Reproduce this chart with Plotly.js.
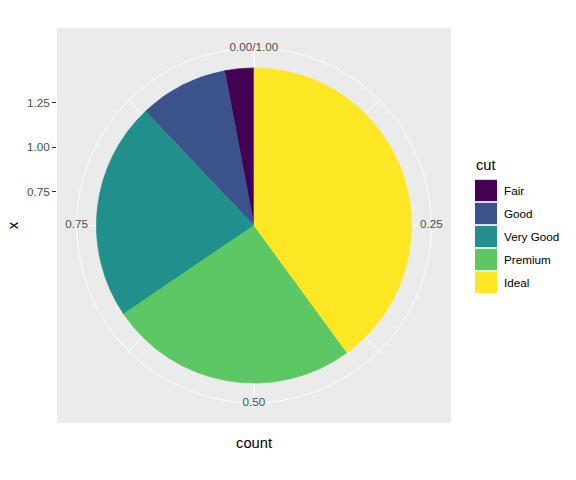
<!DOCTYPE html>
<html>
<head>
<meta charset="utf-8">
<script src="https://cdn.plot.ly/plotly-3.0.1.min.js"></script>
<style>html,body{margin:0;padding:0;background:#fff;}#chart{width:576px;height:480px;}</style>
</head>
<body>
<div id="chart"></div>
<script>
// ---- data ----
const cuts = ['Fair', 'Good', 'Very Good', 'Premium', 'Ideal'];
const counts = [1610, 4906, 12082, 13791, 21551];
const thetaTickVals = [0, 0.25, 0.5, 0.75];
const thetaTickText = ['0.00/1.00', '0.25', '0.50', '0.75'];
const thetaMinorVals = [0.125, 0.375, 0.625, 0.875];
const rTickVals = [0.75, 1.00, 1.25];
const rTickText = ['0.75', '1.00', '1.25'];

// ---- style ----
const colors = ['#440154', '#3B528B', '#21908C', '#5DC863', '#FDE725'];
const FONT = 'Liberation Sans, Arial, Helvetica, sans-serif';
const W = 576, H = 480;
const panel = {l: 57, t: 28, w: 394, h: 395};
const M = {l: panel.l, r: 0, t: panel.t, b: H - panel.t - panel.h};
const areaW = W - M.l - M.r, areaH = panel.h;

const total = counts.reduce((a, b) => a + b, 0);
// stacked: last category starts at 0 (top), going clockwise
const thetaC = [], widths = [];
for (let i = 0; i < counts.length; i++) {
  let after = 0;
  for (let j = i + 1; j < counts.length; j++) after += counts[j];
  thetaC.push((after + counts[i] / 2) / total * 360);
  widths.push(counts[i] / total * 360);
}

// radial scale: x range 0.5..1.5 -> 0..0.4 of panel; outer circle at 0.45
const rMin = 0.5, rMax = 0.5 + 1.0 * 0.45 / 0.4;
const circleD = 0.9 * panel.w;

const traces = [];
traces.push({
  type: 'barpolar',
  r: cuts.map(() => 1.0),
  base: cuts.map(() => 0.5),
  theta: thetaC,
  width: widths,
  marker: {color: colors, line: {width: 0.6, color: colors}},
  showlegend: false,
  hoverinfo: 'skip',
  subplot: 'polar'
});
traces.push({
  type: 'scatterpolar',
  mode: 'text',
  r: thetaTickVals.map(() => rMax),
  theta: thetaTickVals.map(v => v * 360),
  text: thetaTickText,
  textposition: 'middle center',
  textfont: {family: FONT, size: 11.7, color: '#4D4D4D'},
  cliponaxis: false,
  showlegend: false,
  hoverinfo: 'skip',
  subplot: 'polar'
});
// dummy on main cartesian axes so they render
traces.push({
  type: 'scatter', x: [0.5], y: [rTickVals[1]], mode: 'markers',
  marker: {opacity: 0}, showlegend: false, hoverinfo: 'skip', xaxis: 'x', yaxis: 'y'
});
// legend as keyed bars
traces.push({
  type: 'bar', orientation: 'h',
  x: cuts.map(() => 1), y: cuts,
  width: 0.93,
  marker: {color: colors, line: {width: 0}},
  showlegend: false, hoverinfo: 'skip',
  xaxis: 'x2', yaxis: 'y2'
});

// y axis (radial labels) : pixel mapping from reference
const pxPerUnit = 178; // 0.25 -> 44.5 px
const yAt1 = 147 - panel.t; // px from panel top where 1.00 sits
const yTop = 1 + yAt1 / pxPerUnit;
const yBot = 1 - (panel.h - yAt1) / pxPerUnit;

const pdx0 = (panel.w - circleD) / 2 / areaW, pdx1 = (panel.w + circleD) / 2 / areaW;
const pdy0 = (panel.h - circleD) / 2 / areaH, pdy1 = (panel.h + circleD) / 2 / areaH;

const layout = {
  width: W, height: H,
  margin: M,
  paper_bgcolor: '#FFFFFF',
  plot_bgcolor: 'rgba(0,0,0,0)',
  font: {family: FONT, color: '#000000'},
  showlegend: false,
  hovermode: false,
  shapes: [{
    type: 'rect', xref: 'x domain', yref: 'y domain',
    x0: 0, x1: 1, y0: 0, y1: 1,
    fillcolor: '#EBEBEB', line: {width: 0}, layer: 'below'
  }],
  xaxis: {
    domain: [0, panel.w / areaW], range: [0, 1],
    showgrid: false, zeroline: false, showticklabels: false, ticks: '',
    showline: false, fixedrange: true,
    title: {text: 'count', font: {family: FONT, size: 14.7, color: '#000'}, standoff: 14}
  },
  yaxis: {
    domain: [0, 1], range: [yBot, yTop],
    showgrid: false, zeroline: false, showline: false,
    tickvals: rTickVals, ticktext: rTickText,
    ticks: 'outside', ticklen: 4, tickwidth: 1, tickcolor: '#333333',
    tickfont: {family: FONT, size: 11.7, color: '#4D4D4D'},
    fixedrange: true,
    title: {text: 'x', font: {family: FONT, size: 14.7, color: '#000'}, standoff: 4}
  },
  xaxis2: {
    domain: [(475 - M.l) / areaW, (497 - M.l) / areaW], range: [0, 1],
    visible: false, anchor: 'y2', fixedrange: true
  },
  yaxis2: {
    domain: [(panel.t + panel.h - 294) / areaH, (panel.t + panel.h - 179) / areaH],
    type: 'category', categoryorder: 'array', categoryarray: cuts,
    autorange: 'reversed', anchor: 'x2', side: 'right',
    showgrid: false, zeroline: false, showline: false, ticks: '',
    ticklabelstandoff: 6,
    tickfont: {family: FONT, size: 11.7, color: '#000000'},
    fixedrange: true
  },
  polar: {
    domain: {x: [pdx0, pdx1], y: [pdy0, pdy1]},
    bgcolor: 'rgba(0,0,0,0)',
    hole: 0,
    radialaxis: {
      range: [rMin, rMax], visible: false
    },
    angularaxis: {
      direction: 'clockwise', rotation: 90,
      tickvals: thetaTickVals.concat(thetaMinorVals).map(v => v * 360),
      ticktext: thetaTickVals.concat(thetaMinorVals).map(() => ''),
      showticklabels: false, ticks: '',
      showgrid: true, gridcolor: '#FFFFFF', gridwidth: 1,
      showline: true, linecolor: '#FFFFFF', linewidth: 1,
      layer: 'below traces'
    }
  },
  annotations: [{
    xref: 'paper', yref: 'paper',
    x: (474 - M.l) / areaW, y: (panel.t + panel.h - 165) / areaH,
    xanchor: 'left', yanchor: 'middle', showarrow: false,
    text: 'cut', font: {family: FONT, size: 14.7, color: '#000'}
  }]
};

Plotly.newPlot('chart', traces, layout, {staticPlot: true, displayModeBar: false});
</script>
</body>
</html>
